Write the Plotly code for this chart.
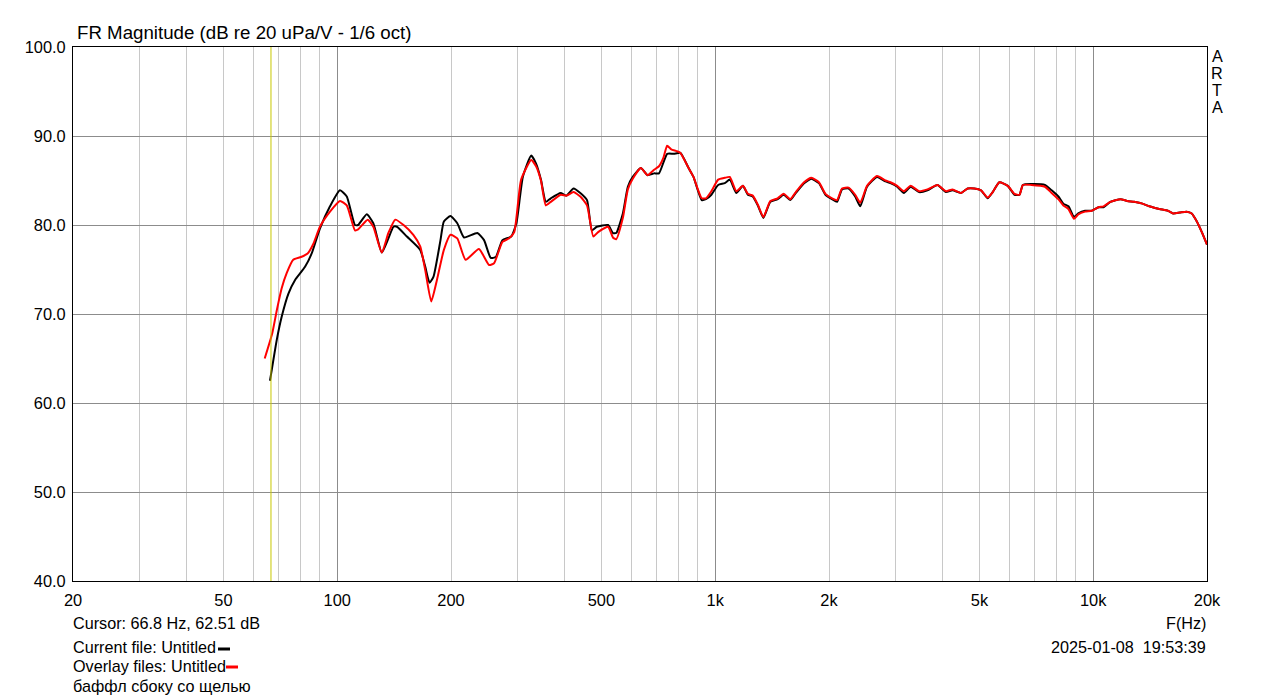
import math
import plotly.graph_objects as go

# ---- data ----
black_freq = [66.4, 69.2, 71.3, 74.3, 77.3, 82.2, 85.6, 90.0, 95.7, 101.7, 106, 111.4, 113.6, 119.7, 124.6,
              131.2, 136.6, 140.9, 143.9, 152.9, 165.8, 171, 175.5, 179.8, 187.6, 191.5, 199.4, 207.8, 216.5,
              234.8, 244.6, 254.8, 262.8, 273.6, 288.5, 297.9, 309.8, 326, 335.8, 345.9, 356.4, 367.3, 390,
              404, 421.9, 439.7, 458, 471.7, 486, 520.6, 536.3, 547, 569.8, 587.3, 605.1, 635.7, 661.9, 689,
              709.9, 746.3, 776.9, 809, 850.3, 876, 921, 945, 977, 1018, 1060, 1093, 1137, 1184, 1220, 1257,
              1296, 1341, 1399, 1463, 1517, 1580, 1634, 1718, 1796, 1881, 1957, 2038, 2101, 2165, 2254, 2346,
              2420, 2521, 2680, 2821, 2908, 3030, 3157, 3290, 3462, 3643, 3873, 4076, 4245, 4468, 4654, 4847,
              5049, 5258, 5421, 5647, 5944, 6191, 6382, 6515, 6857, 7451, 7764, 8089, 8336, 8599, 8898, 9131,
              9514, 9912, 10330, 10650, 11100, 11810, 12300, 12830, 13500, 14070, 14960, 15760, 16270, 16950,
              17660, 18220, 18800, 19380, 20000]
black_db = [62.5, 67.1, 69.7, 72.3, 73.8, 75.3, 76.8, 79.6, 82.1, 83.9, 83.2, 80.0, 80.0, 81.2, 80.2,
            76.9, 78.5, 79.8, 79.8, 78.7, 77.2, 75.3, 73.5, 74.2, 78.3, 80.4, 81.0, 80.2, 78.6,
            79.1, 78.3, 76.3, 76.4, 78.3, 78.7, 80.2, 85.4, 87.8, 86.9, 85.1, 82.6, 83.0, 83.6,
            83.3, 84.1, 83.6, 82.8, 79.4, 79.8, 80.0, 79.1, 79.1, 81.3, 84.3, 85.4, 86.4, 85.6, 85.8,
            85.8, 88.0, 88.0, 88.1, 86.4, 85.4, 82.8, 82.9, 83.4, 84.5, 84.7, 85.1, 83.6, 84.4, 83.4, 83.2,
            82.2, 80.8, 82.6, 82.9, 83.4, 82.8, 83.6, 84.7, 85.2, 84.7, 83.4, 82.9, 82.6, 84.0, 84.1, 83.2,
            82.1, 84.3, 85.4, 84.9, 84.7, 84.3, 83.6, 84.3, 83.7, 83.9, 84.5, 83.7, 83.9, 83.6, 84.1, 84.1,
            83.9, 83.0, 83.7, 84.8, 84.4, 83.4, 83.4, 84.5, 84.6, 84.5, 83.9, 83.2, 82.4, 82.1, 80.9, 81.3,
            81.6, 81.6, 82.0, 82.0, 82.6, 82.9, 82.7, 82.6, 82.4, 82.1, 81.8, 81.6, 81.3, 81.4,
            81.5, 81.3, 80.4, 79.2, 77.8]

red_freq = [64.3, 67.3, 69.2, 71.3, 73.5, 76.5, 80.2, 83.5, 86.5, 90, 95.7, 101.7, 106, 111.4, 113.6,
            120.4, 124.6, 131.2, 136.6, 142.4, 149.8, 159, 165.8, 171, 177.3, 183.5, 191.5, 199.4, 207.8,
            218.6, 237.1, 252.3, 260, 273.6, 285, 294, 306.6, 326, 335.8, 345.9, 356.4, 367.3, 390, 404,
            421.9, 439.7, 458, 476, 490, 520.6, 536.3, 547, 569.8, 587.3, 605.1, 635.7, 661.9, 689, 710,
            730, 746, 765, 790, 809, 850.3, 876, 921, 945, 977, 1018, 1060, 1093, 1137, 1184, 1220, 1257,
            1296, 1341, 1399, 1463, 1517, 1580, 1634, 1718, 1796, 1881, 1957, 2038, 2101, 2165, 2254, 2346,
            2420, 2521, 2680, 2821, 2908, 3030, 3157, 3290, 3462, 3643, 3873, 4076, 4245, 4468, 4654, 4847,
            5049, 5258, 5421, 5647, 5944, 6191, 6382, 6515, 6857, 7451, 7764, 8089, 8336, 8599, 8898, 9131,
            9514, 9912, 10330, 10650, 11100, 11810, 12300, 12830, 13500, 14070, 14960, 15760, 16270, 16950,
            17660, 18220, 18800, 19380, 20000]
red_db = [65.0, 67.8, 70.4, 72.9, 74.6, 76.1, 76.4, 76.8, 77.9, 79.8, 81.5, 82.7, 82.2, 79.4, 79.5,
          80.6, 79.8, 76.9, 79.1, 80.6, 80.0, 78.9, 77.6, 74.9, 71.4, 73.8, 77.2, 78.9, 78.5,
          76.1, 77.3, 75.5, 75.7, 78.1, 78.5, 79.2, 85.1, 87.3, 86.6, 85.0, 82.2, 82.6, 83.4, 83.3,
          83.7, 83.2, 82.2, 78.7, 79.2, 79.8, 78.6, 78.4, 80.8, 84.0, 85.2, 86.4, 85.6, 86.2, 86.6,
          87.6, 88.9, 88.5, 88.3, 88.1, 86.4, 85.4, 83.0, 83.0, 83.8, 85.1, 85.3, 85.4, 83.8, 84.4, 83.5, 83.3,
          82.3, 80.9, 82.7, 83.0, 83.5, 82.9, 83.7, 84.8, 85.3, 84.8, 83.5, 83.0, 82.8, 84.1, 84.2, 83.4,
          82.5, 84.4, 85.5, 85.0, 84.8, 84.4, 83.8, 84.4, 83.8, 84.0, 84.5, 83.8, 84.0, 83.6, 84.1, 84.1,
          83.9, 83.1, 83.7, 84.8, 84.4, 83.5, 83.4, 84.5, 84.5, 84.3, 83.6, 82.9, 82.2, 81.8, 80.7, 81.2,
          81.5, 81.6, 82.0, 82.1, 82.6, 82.9, 82.7, 82.6, 82.4, 82.1, 81.8, 81.6, 81.3, 81.4,
          81.5, 81.3, 80.4, 79.2, 77.8]

cursor_freq = 66.8
cursor_db = 62.51

x_tickvals = [20, 50, 100, 200, 500, 1000, 2000, 5000, 10000, 20000]
x_ticktext = ["20", "50", "100", "200", "500", "1k", "2k", "5k", "10k", "20k"]
x_minor = [30, 40, 60, 70, 80, 90, 300, 400, 600, 700, 800, 900,
           3000, 4000, 6000, 7000, 8000, 9000]
x_decades = [100, 1000, 10000]
y_tickvals = [40, 50, 60, 70, 80, 90, 100]
y_ticktext = ["40.0", "50.0", "60.0", "70.0", "80.0", "90.0", "100.0"]

# ---- figure ----
W, H = 1279, 699
L, R, T, B = 73, 72, 47, 118
PW, PH = W - L - R, H - T - B
FONT = "Liberation Sans, Arial, sans-serif"
LIGHT = "#c8c8c8"
DARK = "#8c8c8c"
FS = 16.2


def px(xp):
    return (xp - L) / PW


def py(yp):
    return (H - B - yp) / PH


fig = go.Figure()
# cursor line lives on the overlay axis (which also carries the dark decade grid)
fig.add_trace(go.Scatter(x=[cursor_freq, cursor_freq], y=[y_tickvals[0], y_tickvals[-1]], mode="lines",
                         xaxis="x2", yaxis="y",
                         line=dict(color="#c8c800", width=1), hoverinfo="skip", showlegend=False))
fig.add_trace(go.Scatter(x=black_freq, y=black_db, mode="lines",
                         line=dict(color="#000000", width=2, shape="spline", smoothing=0.5),
                         showlegend=False))
fig.add_trace(go.Scatter(x=red_freq, y=red_db, mode="lines",
                         line=dict(color="#ff0000", width=2, shape="spline", smoothing=0.5),
                         showlegend=False))

xr = [math.log10(20), math.log10(20000)]
fig.update_layout(
    width=W, height=H,
    margin=dict(l=L, r=R, t=T, b=B, pad=0),
    paper_bgcolor="white", plot_bgcolor="white",
    font=dict(family=FONT, size=FS, color="black"),
    xaxis=dict(type="log", range=xr, tickmode="array", tickvals=x_tickvals, ticktext=x_ticktext,
               showgrid=True, gridcolor=LIGHT, gridwidth=1, zeroline=False,
               minor=dict(tickmode="array", tickvals=x_minor, showgrid=True, gridcolor=LIGHT,
                          gridwidth=1, ticks=""),
               showline=True, linecolor="black", linewidth=1, mirror=True, ticks="",
               tickfont=dict(family=FONT, size=16.4, color="black"), ticklabelstandoff=4),
    xaxis2=dict(type="log", range=xr, overlaying="x", tickmode="array", tickvals=x_decades,
                showticklabels=False, showgrid=True, gridcolor=DARK, gridwidth=1, zeroline=False,
                showline=False, ticks="", anchor="y", side="bottom"),
    yaxis=dict(range=[40, 100], tickmode="array", tickvals=y_tickvals, ticktext=y_ticktext,
               showgrid=True, gridcolor=DARK, gridwidth=1, zeroline=False,
               showline=True, linecolor="black", linewidth=1, mirror=True, ticks="",
               tickfont=dict(family=FONT, size=16.4, color="black"), ticklabelstandoff=3),
)

ann = []
ann.append(dict(text="FR Magnitude (dB re 20 uPa/V - 1/6 oct)", x=px(75), y=py(33), xanchor="left",
                yanchor="middle", font=dict(size=18.7)))
for i, ch in enumerate("ARTA"):
    ann.append(dict(text=ch, x=px(1217), y=py(56 + 17 * i), xanchor="center", yanchor="middle",
                    font=dict(size=FS)))
ann.append(dict(text="Cursor: 66.8 Hz, 62.51 dB", x=px(71), y=py(623), xanchor="left", yanchor="middle"))
ann.append(dict(text="Current file: Untitled", x=px(71), y=py(647), xanchor="left", yanchor="middle"))
ann.append(dict(text="Overlay files: Untitled", x=px(71), y=py(666), xanchor="left", yanchor="middle"))
ann.append(dict(text="баффл сбоку со щелью", x=px(71), y=py(686), xanchor="left", yanchor="middle"))
ann.append(dict(text="F(Hz)", x=px(1208), y=py(623), xanchor="right", yanchor="middle"))
ann.append(dict(text="2025-01-08\u00a0\u00a019:53:39", x=px(1208), y=py(647), xanchor="right",
                yanchor="middle"))
for a in ann:
    a.update(xref="paper", yref="paper", showarrow=False)
fig.update_layout(annotations=ann)

fig.add_shape(type="line", xref="paper", yref="paper", x0=px(218), x1=px(230), y0=py(649), y1=py(649),
              line=dict(color="black", width=3))
fig.add_shape(type="line", xref="paper", yref="paper", x0=px(226), x1=px(238), y0=py(667), y1=py(667),
              line=dict(color="red", width=3))

fig.write_html("out.html", config={"displayModeBar": False},
               post_script="document.body.style.margin='0';document.body.style.padding='0';")
